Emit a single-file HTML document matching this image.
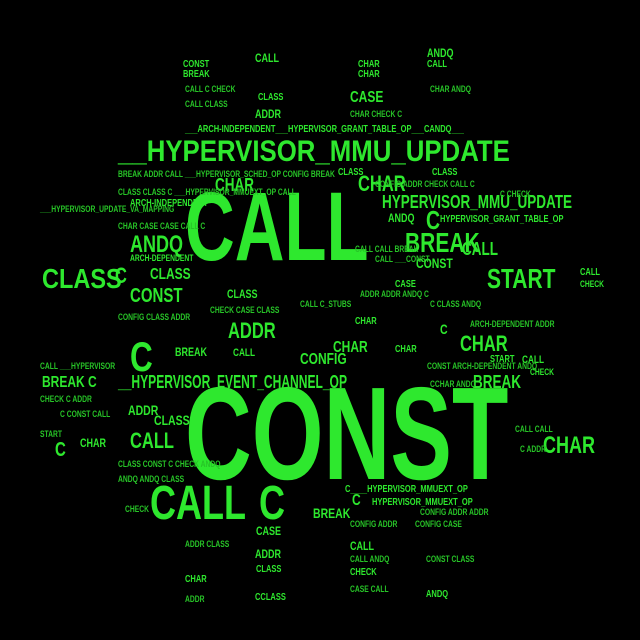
<!DOCTYPE html>
<html><head><meta charset="utf-8"><style>
html,body{margin:0;padding:0;background:#000;}
#c{position:relative;width:640px;height:640px;overflow:hidden;background:#000;font-family:"Liberation Sans",sans-serif;font-weight:bold;color:#2ee82e;}
#c div{position:absolute;white-space:nowrap;line-height:1;transform-origin:0 0;transform:scaleX(0.75);}
.s{font-size:9px;color:#27c427;}
.t{font-size:7px;color:#22a822;}
</style></head><body><div id="c">
<div style="left:185px;top:178px;font-size:97px;transform:scaleX(0.71)">CALL</div>
<div style="left:185px;top:368px;font-size:132px;transform:scaleX(0.70)">CONST</div>
<div style="left:118px;top:137px;font-size:30px;transform:scaleX(0.86)">__HYPERVISOR_MMU_UPDATE</div>
<div style="left:150px;top:480px;font-size:48px;">CALL</div>
<div style="left:259px;top:480px;font-size:48px;">C</div>
<div style="left:130px;top:336px;font-size:42px;">C</div>
<div style="left:42px;top:265px;font-size:28px;transform:scaleX(0.84)">CLASS</div>
<div style="left:405px;top:229px;font-size:28px;">BREAK</div>
<div style="left:487px;top:265px;font-size:28px;">START</div>
<div style="left:543px;top:434px;font-size:24px;">CHAR</div>
<div style="left:118px;top:373px;font-size:18px;transform:scaleX(0.67)">__HYPERVISOR_EVENT_CHANNEL_OP</div>
<div style="left:130px;top:233px;font-size:24px;">ANDQ</div>
<div style="left:228px;top:320px;font-size:22px;">ADDR</div>
<div style="left:460px;top:333px;font-size:22px;">CHAR</div>
<div style="left:358px;top:173px;font-size:22px;">CHAR</div>
<div style="left:215px;top:176px;font-size:18px;">CHAR</div>
<div style="left:382px;top:193px;font-size:18px;transform:scaleX(0.75)">HYPERVISOR_MMU_UPDATE</div>
<div style="left:130px;top:286px;font-size:20px;">CONST</div>
<div style="left:130px;top:430px;font-size:22px;">CALL</div>
<div style="left:473px;top:373px;font-size:18px;">BREAK</div>
<div style="left:42px;top:375px;font-size:16px;">BREAK C</div>
<div style="left:350px;top:90px;font-size:16px;">CASE</div>
<div style="left:426px;top:207px;font-size:26px;">C</div>
<div style="left:115px;top:265px;font-size:22px;">C</div>
<div style="left:150px;top:267px;font-size:16px;">CLASS</div>
<div style="left:227px;top:288px;font-size:12px;">CLASS</div>
<div style="left:300px;top:352px;font-size:16px;">CONFIG</div>
<div style="left:333px;top:340px;font-size:16px;">CHAR</div>
<div style="left:462px;top:240px;font-size:18px;">CALL</div>
<div style="left:352px;top:493px;font-size:16px;">C</div>
<div style="left:313px;top:506px;font-size:14px;">BREAK</div>
<div style="left:55px;top:440px;font-size:20px;">C</div>
<div style="left:80px;top:437px;font-size:12px;">CHAR</div>
<div style="left:128px;top:403px;font-size:14px;">ADDR</div>
<div style="left:154px;top:413px;font-size:14px;">CLASS</div>
<div style="left:416px;top:256px;font-size:14px;">CONST</div>
<div style="left:440px;top:322px;font-size:14px;">C</div>
<div style="left:256px;top:525px;font-size:12px;">CASE</div>
<div style="left:255px;top:548px;font-size:12px;">ADDR</div>
<div style="left:350px;top:540px;font-size:12px;">CALL</div>
<div style="left:255px;top:52px;font-size:12px;">CALL</div>
<div style="left:427px;top:47px;font-size:12px;">ANDQ</div>
<div style="left:255px;top:108px;font-size:12px;">ADDR</div>
<div style="left:185px;top:125px;font-size:10px;">___ARCH-INDEPENDENT___HYPERVISOR_GRANT_TABLE_OP___CANDQ___</div>
<div style="left:345px;top:485px;font-size:10px;">C____HYPERVISOR_MMUEXT_OP</div>
<div style="left:372px;top:498px;font-size:10px;">HYPERVISOR_MMUEXT_OP</div>
<div style="left:130px;top:199px;font-size:10px;">ARCH-INDEPENDENT</div>
<div style="left:130px;top:254px;font-size:9px;">ARCH-DEPENDENT</div>
<div style="left:175px;top:346px;font-size:12px;">BREAK</div>
<div style="left:233px;top:348px;font-size:11px;">CALL</div>
<div style="left:522px;top:355px;font-size:11px;">CALL</div>
<div style="left:440px;top:215px;font-size:10px;">HYPERVISOR_GRANT_TABLE_OP</div>
<div style="left:388px;top:212px;font-size:12px;">ANDQ</div>
<div style="left:432px;top:168px;font-size:10px;">CLASS</div>
<div style="left:338px;top:168px;font-size:10px;">CLASS</div>
<div style="left:580px;top:268px;font-size:10px;">CALL</div>
<div style="left:580px;top:280px;font-size:9px;">CHECK</div>
<div style="left:183px;top:60px;font-size:10px;">CONST</div>
<div style="left:183px;top:70px;font-size:10px;">BREAK</div>
<div style="left:358px;top:60px;font-size:10px;">CHAR</div>
<div style="left:358px;top:70px;font-size:10px;">CHAR</div>
<div style="left:427px;top:60px;font-size:10px;">CALL</div>
<div style="left:258px;top:93px;font-size:10px;">CLASS</div>
<div style="left:256px;top:565px;font-size:10px;">CLASS</div>
<div style="left:255px;top:593px;font-size:10px;">CCLASS</div>
<div style="left:426px;top:590px;font-size:10px;">ANDQ</div>
<div style="left:350px;top:568px;font-size:10px;">CHECK</div>
<div style="left:185px;top:575px;font-size:10px;">CHAR</div>
<div style="left:355px;top:317px;font-size:10px;">CHAR</div>
<div style="left:395px;top:345px;font-size:10px;">CHAR</div>
<div style="left:395px;top:280px;font-size:10px;">CASE</div>
<div style="left:530px;top:368px;font-size:9px;">CHECK</div>
<div style="left:490px;top:355px;font-size:10px;">START</div>
<div class="s" style="left:118px;top:170px;">BREAK ADDR CALL ___HYPERVISOR_SCHED_OP CONFIG BREAK</div>
<div class="s" style="left:118px;top:188px;">CLASS CLASS C ___HYPERVISOR_MMUEXT_OP CALL</div>
<div class="s" style="left:40px;top:205px;">___HYPERVISOR_UPDATE_VA_MAPPING</div>
<div class="s" style="left:118px;top:222px;">CHAR CASE CASE CALL C</div>
<div class="s" style="left:375px;top:180px;">CONFIG ADDR CHECK CALL C</div>
<div class="s" style="left:500px;top:190px;">C CHECK</div>
<div class="s" style="left:118px;top:313px;">CONFIG CLASS ADDR</div>
<div class="s" style="left:210px;top:306px;">CHECK CASE CLASS</div>
<div class="s" style="left:300px;top:300px;">CALL C_STUBS</div>
<div class="s" style="left:355px;top:245px;">CALL CALL BREAK</div>
<div class="s" style="left:375px;top:255px;">CALL ___CONST</div>
<div class="s" style="left:360px;top:290px;">ADDR ADDR ANDQ C</div>
<div class="s" style="left:430px;top:300px;">C CLASS ANDQ</div>
<div class="s" style="left:470px;top:320px;">ARCH-DEPENDENT ADDR</div>
<div class="s" style="left:427px;top:362px;">CONST ARCH-DEPENDENT ANDQ</div>
<div class="s" style="left:430px;top:380px;">CCHAR ANDQ</div>
<div class="s" style="left:40px;top:362px;">CALL ___HYPERVISOR</div>
<div class="s" style="left:40px;top:395px;">CHECK C ADDR</div>
<div class="s" style="left:60px;top:410px;">C CONST CALL</div>
<div class="s" style="left:40px;top:430px;">START</div>
<div class="s" style="left:118px;top:460px;">CLASS CONST C CHECK ANDQ</div>
<div class="s" style="left:118px;top:475px;">ANDQ ANDQ CLASS</div>
<div class="s" style="left:125px;top:505px;">CHECK</div>
<div class="s" style="left:420px;top:508px;">CONFIG ADDR ADDR</div>
<div class="s" style="left:415px;top:520px;">CONFIG CASE</div>
<div class="s" style="left:515px;top:425px;">CALL CALL</div>
<div class="s" style="left:520px;top:445px;">C ADDR</div>
<div class="s" style="left:350px;top:520px;">CONFIG ADDR</div>
<div class="s" style="left:350px;top:555px;">CALL ANDQ</div>
<div class="s" style="left:350px;top:585px;">CASE CALL</div>
<div class="s" style="left:426px;top:555px;">CONST CLASS</div>
<div class="s" style="left:185px;top:540px;">ADDR CLASS</div>
<div class="s" style="left:185px;top:595px;">ADDR</div>
<div class="s" style="left:185px;top:85px;">CALL C CHECK</div>
<div class="s" style="left:430px;top:85px;">CHAR ANDQ</div>
<div class="s" style="left:185px;top:100px;">CALL CLASS</div>
<div class="s" style="left:350px;top:110px;">CHAR CHECK C</div>
</div></body></html>
